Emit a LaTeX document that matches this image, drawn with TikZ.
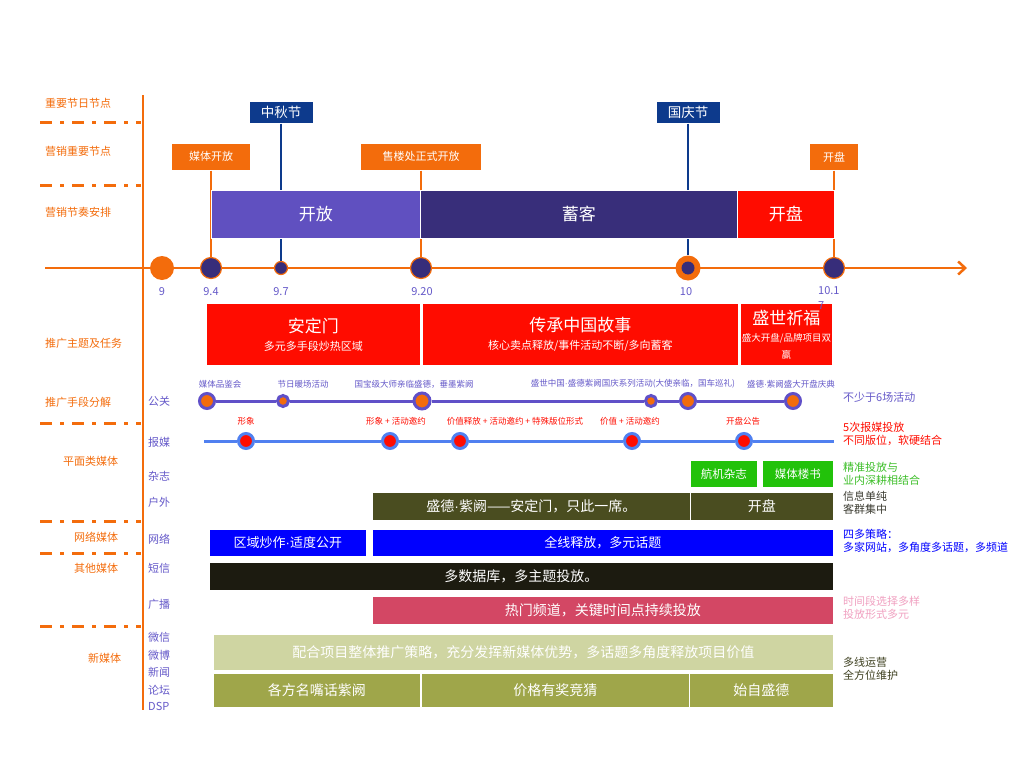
\documentclass[tikz,border=0pt]{standalone}
\usepackage{fontspec}
\setmainfont{Noto Sans CJK SC}
\newfontfamily\latinf{Liberation Sans}
\usepackage{tikz}
\usetikzlibrary{arrows.meta}

\definecolor{orng}{RGB}{243,108,12}
\definecolor{tagnavy}{RGB}{13,58,140}
\definecolor{dotnavy}{RGB}{55,45,122}
\definecolor{openpurple}{RGB}{96,80,192}
\definecolor{holdpurple}{RGB}{56,46,122}
\definecolor{barred}{RGB}{255,12,0}
\definecolor{lblue}{RGB}{100,88,200}
\definecolor{prpl}{RGB}{96,80,200}
\definecolor{bmblue}{RGB}{80,128,240}
\definecolor{mgreen}{RGB}{34,194,10}
\definecolor{darkolive}{RGB}{74,77,32}
\definecolor{netblue}{RGB}{0,0,255}
\definecolor{smsblack}{RGB}{28,27,16}
\definecolor{pinkbar}{RGB}{211,71,100}
\definecolor{pinktext}{RGB}{240,160,192}
\definecolor{lightolive}{RGB}{207,213,162}
\definecolor{olive}{RGB}{159,166,74}
\definecolor{olivetext}{RGB}{62,64,32}
\definecolor{greentext}{RGB}{60,190,40}
\definecolor{graytext}{RGB}{60,60,50}

\newcommand{\fsz}[2]{\fontsize{#1}{#2}\selectfont}
\newcommand{\mdot}{{\latinf ·}}

\begin{document}
\begin{tikzpicture}[x=1pt, y=-1pt,
  lbl/.style = {text=orng, font=\fsz{11}{13}, anchor=west, inner sep=0pt},
  sub/.style = {text=lblue, font=\fsz{11}{13}, anchor=west, inner sep=0pt},
  note/.style = {font=\fsz{11}{13}, anchor=west, align=left, inner sep=0pt},
  sep/.style = {draw=orng, line width=3pt, dash pattern=on 12pt off 8pt on 4pt off 8pt},
  box/.style = {draw=white, line width=0.8pt, inner sep=0pt, text=white, anchor=north west, align=center},
  tag/.style = {draw=white, line width=0.6pt, inner sep=0pt, text=white, anchor=north, minimum height=27},
  stem/.style = {line width=2.8pt},
  tlab/.style = {text=lblue, font=\fsz{11}{13}, inner sep=0pt},
  prdot/.style = {circle, fill=orng, draw=prpl, line width=3pt, inner sep=0pt, minimum size=#1},
  bmdot/.style = {circle, fill=barred, draw=bmblue, line width=3pt, inner sep=0pt, minimum size=#1},
  tiny/.style = {font=\fsz{8.5}{10}, inner sep=0pt}]

\useasboundingbox (0,0) rectangle (1024,768);

% left axis and row labels
\coordinate (vtop) at (143,95);
\coordinate (vbot) at (143,710);
\draw[orng, line width=2.5pt] (vtop) -- (vbot);
\foreach \y in {122,185,423,521,553,626}
  \draw[sep] (40,\y) -- (141,\y);

\node[lbl] (r1) at (45,103) {重要节日节点};
\node[lbl] (r2) at (45,151) {营销重要节点};
\node[lbl] (r3) at (45,212) {营销节奏安排};
\node[lbl] (r4) at (45,343) {推广主题及任务};
\node[lbl] (r5) at (45,402) {推广手段分解};
\node[lbl] (r6) at (63,461) {平面类媒体};
\node[lbl] (r7) at (74,537) {网络媒体};
\node[lbl] (r8) at (74,568) {其他媒体};
\node[lbl] (r9) at (88,658) {新媒体};

\node[sub] (s1) at (148,401) {公关};
\node[sub] (s2) at (148,442) {报媒};
\node[sub] (s3) at (148,476) {杂志};
\node[sub] (s4) at (148,502) {户外};
\node[sub] (s5) at (148,539) {网络};
\node[sub] (s6) at (148,568) {短信};
\node[sub] (s7) at (148,604) {广播};
\node[sub] (s8) at (148,637) {微信};
\node[sub] (s9) at (148,655) {微博};
\node[sub] (s10) at (148,672) {新闻};
\node[sub] (s11) at (148,690) {论坛};
\node[sub] (s12) at (148,706) {DSP};

% timeline
\coordinate (axL) at (45,268);
\coordinate (axR) at (967,268);
\draw[orng, line width=2.5pt, -{Straight Barb[length=7pt, width=13pt]}] (axL) -- (axR);

\node[circle, fill=orng, inner sep=0pt, minimum size=24] (c9) at (162,268) {};
\node[circle, fill=dotnavy, draw=orng, line width=1.2pt, inner sep=0pt, minimum size=21] (c94) at (211,268) {};
\node[circle, fill=dotnavy, draw=orng, line width=1.2pt, inner sep=0pt, minimum size=13] (c97) at (281,268) {};
\node[circle, fill=dotnavy, draw=orng, line width=1.2pt, inner sep=0pt, minimum size=21] (c920) at (421,268) {};
\node[circle, fill=orng, inner sep=0pt, minimum size=25] (c10) at (688,268) {};
\node[circle, fill=dotnavy, inner sep=0pt, minimum size=13] (c10in) at (c10) {};
\node[circle, fill=dotnavy, draw=orng, line width=1.2pt, inner sep=0pt, minimum size=21] (c1017) at (834,268) {};

\node[tlab] (l9) at (162,292) {9};
\node[tlab] (l94) at (211,292) {9.4};
\node[tlab] (l97) at (281,292) {9.7};
\node[tlab] (l920) at (422,292) {9.20};
\node[tlab] (l10) at (686,292) {10};

% key dates
\node[tag, fill=tagnavy, minimum width=64, font=\fsz{13.5}{15}, minimum height=22] (zq) at (281,101) {中秋节};
\node[tag, fill=tagnavy, minimum width=64, font=\fsz{13.5}{15}, minimum height=22] (gq) at (688,101) {国庆节};
\node[tag, fill=orng, minimum width=79, font=\fsz{11}{13}] (mt) at (211,143) {媒体开放};
\node[tag, fill=orng, minimum width=121, font=\fsz{11}{13}] (sl) at (421,143) {售楼处正式开放};
\node[tag, fill=orng, minimum width=49, font=\fsz{11}{13}] (kp) at (834,143) {开盘};

\draw[stem, tagnavy] (zq) -- (c97);
\draw[stem, tagnavy] (gq) -- (c10);
\draw[stem, orng] (mt) -- (c94);
\draw[stem, orng] (sl) -- (c920);
\draw[stem, orng] (kp) -- (c1017);

% phases
\node[box, fill=openpurple, minimum width=209, minimum height=48, font=\fsz{17}{20}] (ph1) at (211,190) {开放};
\node[box, fill=holdpurple, minimum width=317, minimum height=48, font=\fsz{17}{20}] (ph2) at (420,190) {蓄客};
\node[box, fill=barred, minimum width=97, minimum height=48, font=\fsz{17}{20}] (ph3) at (737,190) {开盘};

% themes
\node[box, fill=barred, minimum width=214, minimum height=62, font=\fsz{17}{20}] (th1) at (206,303)
  {安定门\\[-2pt]{\fsz{11}{13}多元多手段炒热区域}};
\node[box, fill=barred, minimum width=316, minimum height=62, font=\fsz{17}{20}] (th2) at (422,303)
  {传承中国故事\\[-2pt]{\fsz{11}{13}核心卖点释放/事件活动不断/多向蓄客}};
\node[box, fill=barred, minimum width=92, minimum height=62, font=\fsz{17}{20}] (th3) at (740,303)
  {盛世祈福\\[-3pt]{\fsz{9.5}{11}盛大开盘/品牌项目双}\\[-3pt]{\fsz{9.5}{11}赢}};

\node[tlab, anchor=north west, align=left, font=\fsz{11}{15}] (l1017) at (818,286) {10.1\\7};

% PR line
\node[prdot=15] (p1) at (207,401) {};
\node[prdot=11] (p2) at (283,401) {};
\node[prdot=16] (p3) at (422,401) {};
\node[prdot=11] (p4) at (651,401) {};
\node[prdot=15] (p5) at (688,401) {};
\node[prdot=15] (p6) at (793,401) {};
\draw[prpl, line width=3pt] (p1) -- (p2) -- (p3) -- (p4) -- (p5) -- (p6);

\node[tiny, text=lblue] (pt1) at (220,384) {媒体品鉴会};
\node[tiny, text=lblue] (pt2) at (303,384) {节日暖场活动};
\node[tiny, text=lblue] (pt3) at (414,384) {国宝级大师亲临盛德，垂墨紫阙};
\node[tiny, text=lblue] (pt4) at (633,384) {盛世中国\mdot 盛德紫阙国庆系列活动(大使亲临，国车巡礼)};
\node[tiny, text=lblue] (pt5) at (791,384) {盛德\mdot 紫阙盛大开盘庆典};

% press line
\coordinate (bmL) at (204,441);
\coordinate (bmR) at (834,441);
\node[bmdot=15] (b1) at (246,441) {};
\node[bmdot=15] (b2) at (390,441) {};
\node[bmdot=15] (b3) at (460,441) {};
\node[bmdot=15] (b4) at (632,441) {};
\node[bmdot=15] (b5) at (744,441) {};
\draw[bmblue, line width=3pt] (bmL) -- (b1) -- (b2) -- (b3) -- (b4) -- (b5) -- (bmR);

\node[tiny, text=barred] (bt1) at (246,421) {形象};
\node[tiny, text=barred] (bt2) at (396,421) {形象 + 活动邀约};
\node[tiny, text=barred] (bt3) at (515,421) {价值释放 + 活动邀约 + 特殊版位形式};
\node[tiny, text=barred] (bt4) at (630,421) {价值 + 活动邀约};
\node[tiny, text=barred] (bt5) at (743,421) {开盘公告};

% magazines, outdoor, net, sms, radio, new media
\node[box, fill=mgreen, minimum width=67, minimum height=27, font=\fsz{11.5}{13}] (mg1) at (690,460) {航机杂志};
\node[box, fill=mgreen, minimum width=71, minimum height=27, font=\fsz{11.5}{13}] (mg2) at (762,460) {媒体楼书};

\node[box, fill=darkolive, minimum width=318, minimum height=28, font=\fsz{14}{16}] (od1) at (372,492) {盛德\mdot 紫阙——安定门，只此一席。};
\node[box, fill=darkolive, minimum width=143, minimum height=28, font=\fsz{14}{16}] (od2) at (690,492) {开盘};

\node[box, fill=netblue, minimum width=157, minimum height=27, font=\fsz{13}{15}] (nw1) at (209,529) {区域炒作\mdot 适度公开};
\node[box, fill=netblue, minimum width=461, minimum height=27, font=\fsz{13}{15}] (nw2) at (372,529) {全线释放，多元话题};

\node[box, fill=smsblack, minimum width=624, minimum height=28, font=\fsz{14}{16}] (sms) at (209,562) {多数据库，多主题投放。};

\node[box, fill=pinkbar, minimum width=461, minimum height=28, font=\fsz{14}{16}] (rd) at (372,596) {热门频道，关键时间点持续投放};

\node[box, fill=lightolive, minimum width=620, minimum height=36, font=\fsz{14}{16}] (nm) at (213,634) {配合项目整体推广策略，充分发挥新媒体优势，多话题多角度释放项目价值};
\node[box, fill=olive, minimum width=207, minimum height=34, font=\fsz{14}{16}] (nm1) at (213,673) {各方名嘴话紫阙};
\node[box, fill=olive, minimum width=268, minimum height=34, font=\fsz{14}{16}] (nm2) at (421,673) {价格有奖竞猜};
\node[box, fill=olive, minimum width=144, minimum height=34, font=\fsz{14}{16}] (nm3) at (689,673) {始自盛德};

% notes on the right
\node[note, text=lblue] (n1) at (843,397) {不少于6场活动};
\node[note, text=barred] (n2) at (843,434) {5次报媒投放\\不同版位，软硬结合};
\node[note, text=greentext] (n3) at (843,474) {精准投放与\\业内深耕相结合};
\node[note, text=graytext] (n4) at (843,503) {信息单纯\\客群集中};
\node[note, text=netblue] (n5) at (843,541) {四多策略：\\多家网站，多角度多话题，多频道};
\node[note, text=pinktext] (n6) at (843,608) {时间段选择多样\\投放形式多元};
\node[note, text=olivetext] (n7) at (843,669) {多线运营\\全方位维护};
\end{tikzpicture}
\end{document}
